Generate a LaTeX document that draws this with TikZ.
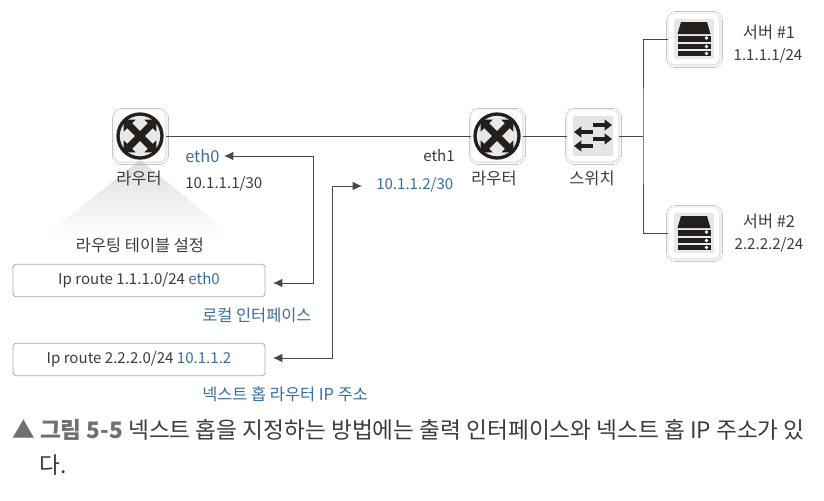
\documentclass[tikz,border=0pt]{standalone}
\usepackage{fontspec}
\setmainfont{Noto Sans CJK KR}
\usetikzlibrary{arrows.meta,shadows.blur}
\definecolor{txt}{HTML}{3C3C3C}
\definecolor{blu}{HTML}{3A6F9C}
\definecolor{capg}{HTML}{707070}
\definecolor{lin}{HTML}{484848}
\definecolor{icon}{HTML}{231F1C}
\newcommand{\fsK}{\fontsize{12.3pt}{14pt}\selectfont}
\newcommand{\fsL}{\fontsize{11.3pt}{14pt}\selectfont}
\tikzset{
  x=0.75pt,y=-0.75pt,
  tile/.style={draw=none,fill=white,rounded corners=5pt,minimum size=38pt,inner sep=0pt,blur shadow={shadow blur steps=6,shadow xshift=0.4pt,shadow yshift=-0.4pt,shadow blur radius=2pt,shadow opacity=22}},
  lab/.style={font=\fsK,text=txt,inner sep=0pt,anchor=center},
  numlab/.style={font=\fsL,text=txt,inner sep=0pt,anchor=center},
  bluelab/.style={lab,text=blu},
  wire/.style={draw=lin,line width=0.75pt},
  arr/.style={draw=lin,line width=0.75pt,{Latex[length=7pt,width=6.5pt]}-{Latex[length=7pt,width=6.5pt]}},
  routebox/.style={draw=gray!65,fill=white,rounded corners=2.5pt,line width=0.6pt,minimum width=189pt,minimum height=24.5pt,inner sep=0pt,font=\fsL,text=txt},
  xarm/.style={draw=icon,line width=5.2pt,-{Triangle[length=6.5pt,width=12.5pt]}},
  swarm/.style={draw=icon,line width=3pt,-{Triangle[length=5.5pt,width=8pt]}},
  capt/.style={inner sep=0pt,anchor=west,font=\fontsize{17pt}{20pt}\selectfont,text=txt},
}
\newcommand{\routericon}[2]{%
  \node[tile] (#1) at (#2) {};
  \begin{scope}[shift={(#2)}]
    \fill[black!5] (-19,-19) rectangle (19,19);
    \draw[icon,line width=2.5pt,fill=black!9] (0,0) circle (22);
    \foreach \a/\b in {1/1,1/-1,-1/1,-1/-1}{\draw[xarm] (0,0) -- (16.5*\a,16.5*\b);}
  \end{scope}}
\newcommand{\switchicon}[2]{%
  \node[tile] (#1) at (#2) {};
  \begin{scope}[shift={(#2)}]
    \fill[black!10,rounded corners=1.5pt] (-20,-20) rectangle (20,20);
    \draw[swarm] (0,-11) -- (19,-11);
    \draw[swarm] (0,-4) -- (-19,-4);
    \draw[swarm] (0,3) -- (19,3);
    \draw[swarm] (0,10) -- (-19,10);
  \end{scope}}
\newcommand{\servericon}[2]{%
  \node[tile] (#1) at (#2) {};
  \begin{scope}[shift={(#2)}]
    \fill[black!9,rounded corners=1.5pt] (-20,-20) rectangle (20,20);
    \fill[icon] (-16.5,-5) -- (-13,-17) -- (13,-17) -- (16.5,-5) -- cycle;
    \fill[icon] (-16.5,-3) rectangle (16.5,3);
    \fill[icon] (-16.5,5) rectangle (16.5,10);
    \fill[icon] (-16.5,12) rectangle (16.5,17);
    \foreach \y in {-1,7.5,14.5}{\fill[white] (12.5,\y) circle (1.9);}
  \end{scope}}
\begin{document}
\begin{tikzpicture}
\useasboundingbox[fill=white] (0,0) rectangle (824,500);
% shaded triangle
\shade[top color=black!13,bottom color=white] (140,160) -- (233,236) -- (45,236) -- cycle;
% device icons
\routericon{r1}{140,136}
\routericon{r2}{497,136}
\switchicon{sw}{593,136}
\servericon{s1}{694,39}
\servericon{s2}{694,233}
% device labels
\node[lab] (r1l) at (139,178) {라우터};
\node[lab] (r2l) at (494,178) {라우터};
\node[lab] (swl) at (592,178) {스위치};
\node[lab] (s1n) at (769,32) {서버 \#1};
\node[numlab] (s1a) at (768,56) {1.1.1.1/24};
\node[lab] (s2n) at (769,221) {서버 \#2};
\node[numlab] (s2a) at (769,245) {2.2.2.2/24};
\node[bluelab,anchor=west] (eth0) at (185,156) {eth0};
\node[numlab,anchor=west] (ip1) at (185,184) {10.1.1.1/30};
\node[numlab,anchor=east] (eth1) at (455,156) {eth1};
\node[bluelab,font=\fsL,anchor=west] (ip2) at (376,185) {10.1.1.2/30};
\node[lab] (tbl) at (140,245) {라우팅 테이블 설정};
% route boxes
\node[routebox] (b1) at (139,280.5) {Ip route 1.1.1.0/24 \textcolor{blu}{eth0}};
\node[routebox] (b2) at (139,359.5) {Ip route 2.2.2.0/24 \textcolor{blu}{10.1.1.2}};
\node[bluelab,anchor=west] (nl) at (202,315) {로컬 인터페이스};
\node[bluelab,anchor=west] (nh) at (202,394) {넥스트 홉 라우터 IP 주소};
% links
\draw[wire] (r1.east) -- (r2.west);
\draw[wire] (r2.east) -- (sw.west);
\coordinate (j) at (643,136);
\draw[wire] (sw.east) -- (j);
\draw[wire] (s1.west) -| (j) |- (s2.west);
% arrows
\coordinate (a1) at (224,156);
\coordinate (a2) at (273,283);
\coordinate (a3) at (273,358);
\coordinate (a4) at (362,186);
\draw[arr] (a1) -| (313,283) -- (a2);
\draw[arr] (a3) -| (332,186) -- (a4);
% caption
\node[capt] (cap1) at (12,430) {\textcolor{capg}{▲ \textbf{그림 5-5}} 넥스트 홉을 지정하는 방법에는 출력 인터페이스와 넥스트 홉 IP 주소가 있};
\node[capt] (cap2) at (39,465) {다.};
\end{tikzpicture}
\end{document}
